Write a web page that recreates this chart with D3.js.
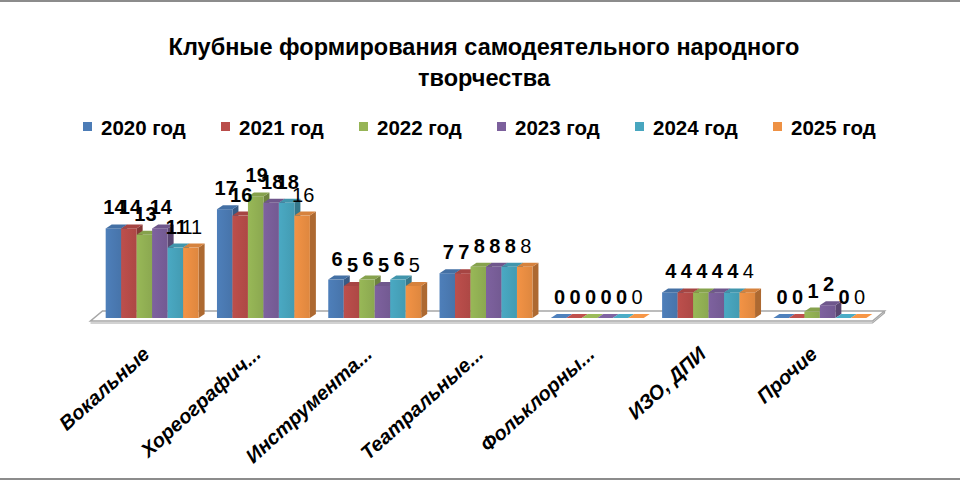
<!DOCTYPE html>
<html>
<head>
<meta charset="utf-8">
<script src="https://cdn.jsdelivr.net/npm/d3@7"></script>
<style>
    body { margin: 0; background: #fff; }
    svg { display: block; font-family: "Liberation Sans", Arial, sans-serif; }
</style>
</head>
<body>
<script>
const categories = ["Вокальные", "Хореографич...", "Инструмента...", "Театральные...", "Фольклорны...", "ИЗО, ДПИ", "Прочие"];
const years = ["2020 год", "2021 год", "2022 год", "2023 год", "2024 год", "2025 год"];
const v2020 = [14, 17, 6, 7, 0, 4, 0];
const v2021 = [14, 16, 5, 7, 0, 4, 0];
const v2022 = [13, 19, 6, 8, 0, 4, 1];
const v2023 = [14, 18, 5, 8, 0, 4, 2];
const v2024 = [11, 18, 6, 8, 0, 4, 0];
const v2025 = [11, 16, 5, 8, 0, 4, 0];
const colors = ["#4F81BD", "#C0504D", "#9BBB59", "#8064A2", "#4BACC6", "#F79646"];

document.addEventListener("DOMContentLoaded", function () {
    const width = 960, height = 480;
    const series = [v2020, v2021, v2022, v2023, v2024, v2025];

    const svg = d3.select("body").append("svg")
        .attr("width", width)
        .attr("height", height);

    // grey rules top and bottom of the chart area
    svg.append("rect").attr("x", 0).attr("y", 0).attr("width", width).attr("height", 2).attr("fill", "#8c8c8c");
    svg.append("rect").attr("x", 0).attr("y", height - 2).attr("width", width).attr("height", 2).attr("fill", "#8c8c8c");

    // title
    const title = svg.append("text")
        .attr("text-anchor", "middle")
        .attr("font-size", "23.5px")
        .attr("font-weight", "bold")
        .attr("fill", "#000");
    title.append("tspan").attr("x", 484).attr("y", 55).text("Клубные формирования самодеятельного народного");
    title.append("tspan").attr("x", 484).attr("y", 86).text("творчества");

    // legend
    const legend = svg.append("g");
    years.forEach(function (name, i) {
        const lx = 83 + i * 138;
        legend.append("rect")
            .attr("x", lx).attr("y", 122)
            .attr("width", 9).attr("height", 9)
            .attr("fill", d3.color(colors[i]).darker(0.1));
        legend.append("text")
            .attr("x", lx + 18).attr("y", 135)
            .attr("font-size", "20.5px")
            .attr("font-weight", "bold")
            .text(name);
    });

    // scales
    const x = d3.scaleBand()
        .domain(categories)
        .range([96.5, 875.5])
        .paddingInner(0.165)
        .paddingOuter(0.0825);
    const xs = d3.scaleBand()
        .domain(years)
        .range([0, x.bandwidth()]);
    const y = d3.scaleLinear()
        .domain([0, 20])
        .range([318, 190]);

    const dx = 6, dy = -4; // bar depth

    // floor slab
    const fx0 = x.range()[0] - 6, fx1 = x.range()[1] - 3;
    const fy = y(0) + 3, fdx = 12, fdy = -10;
    svg.append("path")
        .attr("d", `M${fx0},${fy + 2}L${fx1},${fy + 2}L${fx1 + fdx},${fy + fdy + 2}L${fx1 + fdx},${fy + fdy}`)
        .attr("fill", "none").attr("stroke", "#a6a6a6").attr("stroke-width", 1.2);
    svg.append("path")
        .attr("d", `M${fx0},${fy}L${fx1},${fy}L${fx1 + fdx},${fy + fdy}L${fx0 + fdx},${fy + fdy}Z`)
        .attr("fill", "#fff").attr("stroke", "#a6a6a6").attr("stroke-width", 1.5);

    // gradients for the front faces
    const defs = svg.append("defs");
    colors.forEach(function (c, i) {
        const g = defs.append("linearGradient").attr("id", "grad" + i)
            .attr("x1", 0).attr("x2", 1).attr("y1", 0).attr("y2", 0);
        g.append("stop").attr("offset", "0%").attr("stop-color", d3.color(c).darker(0.05));
        g.append("stop").attr("offset", "100%").attr("stop-color", d3.color(c).darker(0.3));
    });

    // bars
    const bars = svg.append("g");
    categories.forEach(function (cat, ci) {
        years.forEach(function (yr, si) {
            const v = series[si][ci];
            const bx = x(cat) + xs(yr);
            const bw = xs.bandwidth();
            const top = y(v);
            const base = y(0);
            const c = d3.color(colors[si]);
            // side
            bars.append("path")
                .attr("d", `M${bx + bw},${top}L${bx + bw + dx},${top + dy}L${bx + bw + dx},${base + dy}L${bx + bw},${base}Z`)
                .attr("fill", c.darker(1.0));
            // front
            if (v > 0) {
                bars.append("rect")
                    .attr("x", bx).attr("y", top)
                    .attr("width", bw).attr("height", base - top)
                    .attr("fill", "url(#grad" + si + ")");
            }
            // top
            bars.append("path")
                .attr("d", `M${bx},${top}L${bx + dx},${top + dy}L${bx + bw + dx},${top + dy}L${bx + bw},${top}Z`)
                .attr("fill", v > 0 ? c.darker(0.4) : c);
        });
    });

    // value labels
    const labels = svg.append("g");
    categories.forEach(function (cat, ci) {
        years.forEach(function (yr, si) {
            const v = series[si][ci];
            labels.append("text")
                .attr("x", x(cat) + xs(yr) + xs.bandwidth() / 2 + 1)
                .attr("y", y(v) - 14)
                .attr("text-anchor", "middle")
                .attr("font-size", "20px")
                .attr("font-weight", si < 5 ? "bold" : "normal")
                .attr("fill", "#000")
                .text(v);
        });
    });

    // category labels
    const axis = svg.append("g");
    categories.forEach(function (cat) {
        const cx = x(cat) + x.bandwidth() / 2;
        axis.append("text")
            .attr("transform", `translate(${cx - 12},${344}) rotate(-42)`)
            .attr("text-anchor", "end")
            .attr("dy", "0.8em")
            .attr("font-size", "20px")
            .attr("font-weight", "bold")
            .attr("font-style", "italic")
            .text(cat);
    });
});
</script>
</body>
</html>
